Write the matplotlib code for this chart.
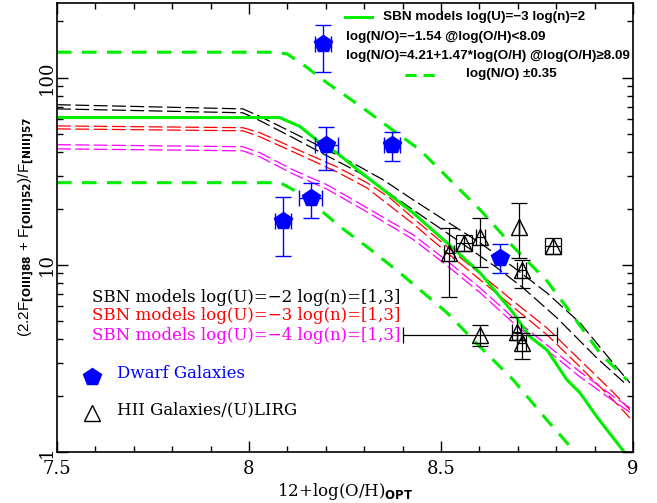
import numpy as np
import matplotlib
matplotlib.use("Agg")
import matplotlib.pyplot as plt
from matplotlib.ticker import FixedLocator, NullFormatter, LogLocator

plt.rcParams['lines.scale_dashes'] = False
plt.rcParams['mathtext.fontset'] = 'dejavusans'

# ---------------- data ----------------
# SBN model log(U)=-3 log(n)=2 (green solid)
x_green = [7.50, 8.08, 8.133, 8.185, 8.229, 8.289, 8.427, 8.516, 8.602, 8.688, 8.732, 8.776, 8.828, 8.862, 8.906, 8.977]
y_green = [61.3, 61.3, 54.9, 44.9, 39.7, 31.5, 19.0, 13.1, 9.06, 5.54, 4.12, 3.51, 2.43, 2.07, 1.54, 1.00]

# log(N/O) -0.35 (upper green dashed)
x_green_up = [7.50, 8.07, 8.10, 8.15, 8.203, 8.229, 8.289, 8.375, 8.445, 8.523, 8.602, 8.688, 8.776, 8.828, 8.914, 8.984]
y_green_up = [137.0, 137.0, 134.0, 114.0, 94.0, 86.3, 70.8, 52.4, 41.2, 28.5, 19.7, 12.5, 8.2, 5.9, 3.38, 2.43]

# log(N/O) +0.35 (lower green dashed)
x_green_lo = [7.50, 8.081, 8.115, 8.177, 8.237, 8.307, 8.393, 8.516, 8.602, 8.688, 8.776, 8.849]
y_green_lo = [27.5, 27.5, 25.2, 20.4, 16.0, 12.5, 9.06, 5.54, 3.64, 2.43, 1.48, 1.00]

# SBN models log(U)=-2, log(n)=1 and 3 (black dashed)
x_u2a = [7.50, 7.984, 8.029, 8.115, 8.203, 8.289, 8.349, 8.427, 8.516, 8.602, 8.688, 8.776, 8.862, 8.948, 8.992]
y_u2a = [71.8, 68.2, 62.1, 50.8, 41.2, 33.4, 28.5, 22.3, 17.0, 13.1, 9.75, 7.08, 4.90, 2.99, 2.34]
x_u2b = [7.50, 7.984, 8.029, 8.115, 8.203, 8.289, 8.427, 8.516, 8.646, 8.714, 8.802, 8.906, 8.984]
y_u2b = [68.2, 65.0, 58.9, 47.8, 38.3, 31.0, 19.7, 14.8, 9.64, 7.53, 5.21, 3.18, 2.28]

# SBN models log(U)=-3, log(n)=1 and 3 (red dashed)
x_u3a = [7.50, 7.984, 8.029, 8.115, 8.229, 8.307, 8.367, 8.427, 8.516, 8.602, 8.688, 8.776, 8.862, 8.948, 8.992]
y_u3a = [55.3, 54.1, 50.8, 42.3, 33.4, 27.5, 22.8, 17.8, 12.5, 8.95, 6.41, 4.60, 3.10, 2.09, 1.68]
x_u3b = [7.50, 7.984, 8.029, 8.115, 8.229, 8.307, 8.427, 8.516, 8.602, 8.688, 8.776, 8.862, 8.948, 8.992]
y_u3b = [53.3, 52.1, 48.3, 40.2, 31.4, 25.8, 16.6, 11.6, 8.32, 5.96, 4.23, 2.85, 1.90, 1.52]

# SBN models log(U)=-4, log(n)=1 and 3 (magenta dashed)
x_u4a = [7.50, 7.984, 8.029, 8.115, 8.203, 8.307, 8.427, 8.516, 8.602, 8.688, 8.776, 8.862, 8.948, 8.992]
y_u4a = [43.9, 42.8, 39.7, 32.2, 26.8, 20.2, 14.5, 10.5, 7.53, 5.21, 3.73, 2.68, 1.99, 1.72]
x_u4b = [7.50, 7.984, 8.029, 8.115, 8.203, 8.307, 8.427, 8.516, 8.602, 8.688, 8.776, 8.862, 8.948, 8.992]
y_u4b = [41.7, 40.7, 37.7, 30.6, 25.4, 19.2, 13.7, 9.9, 7.1, 4.9, 3.5, 2.52, 1.88, 1.63]

# Dwarf galaxies
dw_x = [8.193, 8.201, 8.372, 8.161, 8.089, 8.654]
dw_y = [152.0, 43.8, 43.8, 22.7, 17.1, 10.9]
dw_ylo = [108.0, 32.2, 35.7, 17.8, 11.1, 9.1]
dw_yhi = [192.0, 54.9, 51.6, 27.4, 23.2, 12.9]
dw_xerr = [0.021, 0.030, 0.020, 0.030, 0.020, 0.0]

# HII galaxies / (U)LIRG
hii_x = [8.521, 8.560, 8.602, 8.703, 8.710, 8.792, 8.602, 8.697, 8.710]
hii_y = [11.55, 13.1, 14.1, 16.0, 9.4, 12.6, 4.22, 4.40, 3.81]
hii_ylo = [6.77, 11.9, 9.8, 10.9, 7.5, 11.4, 3.70, 3.97, 3.14]
hii_yhi = [15.8, 14.5, 17.9, 21.5, 10.6, 13.9, 4.78, 5.29, 4.33]
hii_xerr = [0.012, 0.021, 0.012, 0.0, 0.012, 0.021, 0.20, 0.012, 0.012]

x_ticks = [7.5, 8, 8.5, 9]
x_ticklabels = ['7.5', '8', '8.5', '9']
y_ticks = [1, 10, 100]
y_ticklabels = ['1', '10', '100']

# ---------------- figure ----------------
fig = plt.figure(figsize=(6.57, 5.03), dpi=100)
ax = fig.add_axes([57/657, 51/503, 576/657, 449/503])
ax.set_xlim(7.5, 9.0)
ax.set_yscale('log')
ax.set_ylim(1, 251)

GREEN = '#00ee00'
thin = dict(lw=0.9, dashes=(10.0, 3.2))

ax.plot(x_u2a, y_u2a, color='black', **thin)
ax.plot(x_u2b, y_u2b, color='black', **thin)
ax.plot(x_u3a, y_u3a, color='red', **thin)
ax.plot(x_u3b, y_u3b, color='red', **thin)
ax.plot(x_u4a, y_u4a, color='#ff00ff', **thin)
ax.plot(x_u4b, y_u4b, color='#ff00ff', **thin)
ax.plot(x_green_up, y_green_up, color=GREEN, lw=2.2, dashes=(10.5, 7.5))
ax.plot(x_green_lo, y_green_lo, color=GREEN, lw=2.2, dashes=(10.5, 7.5))
ax.plot(x_green, y_green, color=GREEN, lw=2.2)

# HII galaxies
hy = np.array(hii_y)
ax.errorbar(hii_x, hii_y, yerr=[hy - np.array(hii_ylo), np.array(hii_yhi) - hy],
            xerr=hii_xerr, fmt='none', ecolor='black', elinewidth=0.9, capsize=6, capthick=0.9)
ax.plot(hii_x, hii_y, linestyle='none', marker='^', ms=11, mfc='none', mec='black', mew=1.0)

# Dwarf galaxies
dy = np.array(dw_y)
ax.errorbar(dw_x, dw_y, yerr=[dy - np.array(dw_ylo), np.array(dw_yhi) - dy],
            xerr=dw_xerr, fmt='none', ecolor='blue', elinewidth=1.0, capsize=6, capthick=1.0)
ax.plot(dw_x, dw_y, linestyle='none', marker='p', ms=13, color='blue')

# ticks
ax.xaxis.set_major_locator(FixedLocator(x_ticks))
ax.xaxis.set_minor_locator(FixedLocator(np.arange(7.5, 9.001, 0.1)))
ax.set_xticklabels(x_ticklabels)
ax.yaxis.set_major_locator(FixedLocator(y_ticks))
ax.yaxis.set_minor_locator(LogLocator(base=10, subs=np.arange(2, 10)))
ax.yaxis.set_minor_formatter(NullFormatter())
ax.set_yticklabels(y_ticklabels, rotation=90, va='center')
ax.tick_params(which='both', direction='in', top=True, right=True, width=1.0)
ax.tick_params(which='major', length=8, labelsize=13)
ax.tick_params(axis='x', which='major', pad=6)
ax.tick_params(axis='y', which='major', pad=1)
ax.tick_params(which='minor', length=4)
for lab in ax.get_xticklabels() + ax.get_yticklabels():
    lab.set_family('DejaVu Serif')
for s in ax.spines.values():
    s.set_linewidth(1.2)

ax.set_xlabel('12+log(O/H)$_{\\mathbf{OPT}}$', family='DejaVu Serif', fontsize=12)
ax.xaxis.set_label_coords(0.5, -(481 - 452) / 449, transform=ax.transAxes)
ax.set_ylabel('(2.2F$_{\\mathbf{[OIII]88}}$ + F$_{\\mathbf{[OIII]52}}$)/F$_{\\mathbf{[NIII]57}}$',
              family='Liberation Sans', fontsize=11)
ax.yaxis.set_label_coords(-(57 - 37) / 576, 0.5, transform=ax.transAxes)

# left legend
def px(xp, yp):
    return ((xp - 57) / 576, (452 - yp) / 449)

legfont = dict(family='DejaVu Serif', fontsize=12, va='center', ha='left', transform=ax.transAxes)
ax.text(*px(92, 297), 'SBN models log(U)=\u22122 log(n)=[1,3]', color='black', **legfont)
ax.text(*px(92, 316), 'SBN models log(U)=\u22123 log(n)=[1,3]', color='red', **legfont)
ax.text(*px(92, 335), 'SBN models log(U)=\u22124 log(n)=[1,3]', color='#ff00ff', **legfont)
ax.plot(*px(92, 377), marker='p', ms=13, color='blue', transform=ax.transAxes)
ax.text(*px(117, 373), 'Dwarf Galaxies', color='blue', **legfont)
ax.plot(*px(92, 413), marker='^', ms=11, mfc='none', mec='black', mew=1.0, transform=ax.transAxes)
ax.text(*px(117, 410), 'HII Galaxies/(U)LIRG', color='black', **legfont)

# top-right legend
tr = dict(family=['Liberation Sans', 'DejaVu Sans'], fontweight='bold', fontsize=9.7,
          va='center', ha='left', transform=ax.transAxes)
ax.plot([px(345, 0)[0], px(372, 0)[0]], [px(0, 17)[1]] * 2, color=GREEN, lw=2.2, transform=ax.transAxes)
ax.text(*px(383, 17), 'SBN models log(U)=\u22123 log(n)=2', **tr)
ax.text(*px(346, 37), 'log(N/O)=\u22121.54 @log(O/H)<8.09', **tr)
ax.text(*px(346, 56), 'log(N/O)=4.21+1.47*log(O/H) @log(O/H)\u22658.09', **tr)
ax.plot([px(405, 0)[0], px(440, 0)[0]], [px(0, 75)[1]] * 2, color=GREEN, lw=2.2,
        dashes=(8, 5), transform=ax.transAxes)
ax.text(*px(466, 74), 'log(N/O) \u00b10.35', **tr)

fig.savefig('out.png', dpi=100)
